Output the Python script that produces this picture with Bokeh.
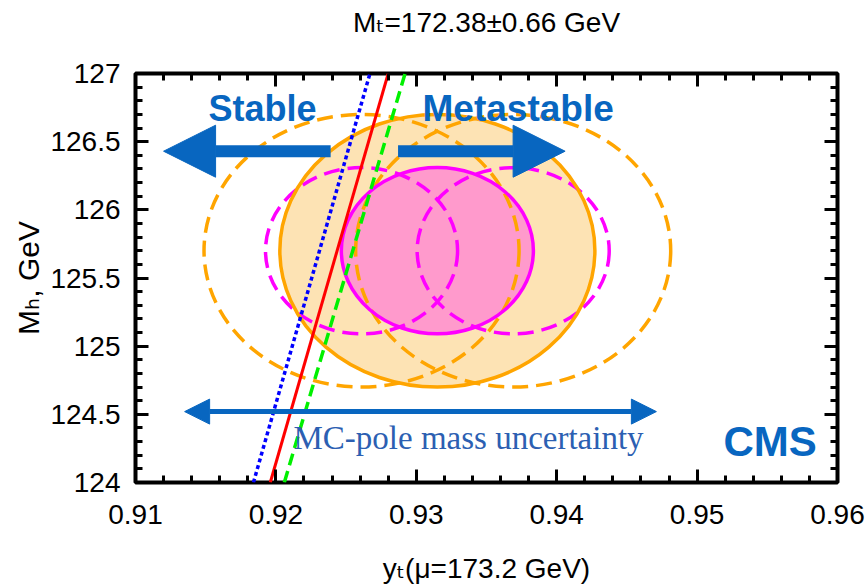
from bokeh.plotting import figure
from bokeh.models import Label, Arrow, NormalHead, LinearAxis, FixedTicker, Range1d
from bokeh.embed import file_html
from bokeh.resources import INLINE

# ---------------- data ----------------
x_ticks = [0.91, 0.92, 0.93, 0.94, 0.95, 0.96]
x_tick_labels = ["0.91", "0.92", "0.93", "0.94", "0.95", "0.96"]
y_ticks = [124, 124.5, 125, 125.5, 126, 126.5, 127]
y_tick_labels = ["124", "124.5", "125", "125.5", "126", "126.5", "127"]

# ellipse centres (shifted variants: left, central, right)
ell_yt = [0.9261, 0.9315, 0.9369]
ell_mh = [125.70, 125.70, 125.70]
sig1_w, sig1_h = 0.01368, 1.22   # full width / height of 68% contour
sig2_w, sig2_h = 0.02244, 2.00   # full width / height of 95% contour

# stability boundary lines (y_t at M_h = 124 and 127)
line_mh = [124.0, 127.0]
red_yt = [0.9196, 0.9280]
blue_yt = [0.9184, 0.9267]
green_yt = [0.9206, 0.9292]

# arrows
big_arrow_mh = 126.43
stable_arrow = [0.9239, 0.9120]       # start, tip
meta_arrow = [0.9287, 0.9406]
mc_arrow_mh = 124.52
mc_arrow = [0.9135, 0.9471]

TITLE = "M\u209c=172.38\u00b10.66 GeV"
XLABEL = "y\u209c(\u03bc=173.2 GeV)"
YLABEL = "M\u2095, GeV"

BLUE = "#0866C0"
ORANGE = "#FFA500"
MAGENTA = "#FF00FF"
FONT = "Liberation Sans, DejaVu Sans"

p = figure(width=868, height=586, x_range=Range1d(0.91, 0.96), y_range=Range1d(124, 127),
           output_backend="svg", toolbar_location=None,
           min_border_left=135, min_border_right=31, min_border_top=73, min_border_bottom=103)
p.grid.visible = False
p.outline_line_color = "black"
p.outline_line_width = 4

top_axis = LinearAxis()
right_axis = LinearAxis()
p.add_layout(right_axis, "right")
p.add_layout(top_axis, "above")
bottom_axis = p.below[0]
left_axis = p.left[0]

minor_x = [round(0.91 + 0.002 * i, 4) for i in range(26)]
minor_y = [round(124 + 0.1 * i, 2) for i in range(31)]
for ax in (bottom_axis, top_axis):
    ax.ticker = FixedTicker(ticks=x_ticks, minor_ticks=minor_x)
    ax.major_label_overrides = dict(zip(x_ticks, x_tick_labels))
for ax in (left_axis, right_axis):
    ax.ticker = FixedTicker(ticks=y_ticks, minor_ticks=minor_y)
    ax.major_label_overrides = dict(zip(y_ticks, y_tick_labels))
for ax in (bottom_axis, top_axis, left_axis, right_axis):
    ax.axis_line_color = None
    ax.major_tick_in = 13
    ax.major_tick_out = 0
    ax.minor_tick_in = 7
    ax.minor_tick_out = 0
    ax.major_tick_line_width = 3
    ax.minor_tick_line_width = 3
    ax.major_tick_line_color = "black"
    ax.minor_tick_line_color = "black"
    ax.major_label_text_font = FONT
    ax.major_label_text_font_size = "28px"
    ax.major_label_text_color = "black"
    ax.axis_label_text_font = FONT
    ax.axis_label_text_font_size = "28px"
    ax.axis_label_text_font_style = "normal"
    ax.axis_label_text_color = "black"
bottom_axis.major_label_standoff = 22
bottom_axis.axis_label = XLABEL
bottom_axis.axis_label_standoff = 26
left_axis.major_label_standoff = 15
left_axis.axis_label = YLABEL
left_axis.axis_label_standoff = 2
left_axis.axis_label_text_font_size = "30px"
for ax in (right_axis, top_axis):
    ax.major_label_text_font_size = "1px"
    ax.major_label_text_color = None
    ax.major_label_standoff = 0

# title drawn as the label of the upper axis
top_axis.axis_label = TITLE
top_axis.axis_label_standoff = 36

# filled contours
p.ellipse(x=[ell_yt[1]], y=[ell_mh[1]], width=sig2_w, height=sig2_h,
          fill_color="#FDE3B4", line_color=None)
p.ellipse(x=[ell_yt[1]], y=[ell_mh[1]], width=sig1_w, height=sig1_h,
          fill_color="#FF9ACC", line_color=None)

# shifted (dashed) contours
for i in (0, 2):
    p.ellipse(x=[ell_yt[i]], y=[ell_mh[i]], width=sig2_w, height=sig2_h,
              fill_color=None, line_color=ORANGE, line_width=3.5, line_dash="16 8")
    p.ellipse(x=[ell_yt[i]], y=[ell_mh[i]], width=sig1_w, height=sig1_h,
              fill_color=None, line_color=MAGENTA, line_width=3.5, line_dash="16 8")

# solid outlines
p.ellipse(x=[ell_yt[1]], y=[ell_mh[1]], width=sig2_w, height=sig2_h,
          fill_color=None, line_color=ORANGE, line_width=3.5)
p.ellipse(x=[ell_yt[1]], y=[ell_mh[1]], width=sig1_w, height=sig1_h,
          fill_color=None, line_color=MAGENTA, line_width=3.5)

# boundary lines
p.line(blue_yt, line_mh, line_color="#0000FF", line_width=3.5, line_dash="4 3")
p.line(red_yt, line_mh, line_color="#FF0000", line_width=3)
p.line(green_yt, line_mh, line_color="#00F000", line_width=3.5, line_dash="12 6")

# arrows
p.add_layout(Arrow(x_start=stable_arrow[0], y_start=big_arrow_mh, x_end=stable_arrow[1], y_end=big_arrow_mh,
                   line_color=BLUE, line_width=12,
                   end=NormalHead(size=52, fill_color=BLUE, line_color=BLUE, line_width=1)))
p.add_layout(Arrow(x_start=meta_arrow[0], y_start=big_arrow_mh, x_end=meta_arrow[1], y_end=big_arrow_mh,
                   line_color=BLUE, line_width=12,
                   end=NormalHead(size=52, fill_color=BLUE, line_color=BLUE, line_width=1)))
p.add_layout(Arrow(x_start=mc_arrow[0], y_start=mc_arrow_mh, x_end=mc_arrow[1], y_end=mc_arrow_mh,
                   line_color=BLUE, line_width=5,
                   start=NormalHead(size=25, fill_color=BLUE, line_color=BLUE, line_width=1),
                   end=NormalHead(size=25, fill_color=BLUE, line_color=BLUE, line_width=1)))

# helper: label whose baseline starts at canvas pixel (px, py)
FX, FY = 135, 73
def lab(text, px, py, size, font="Liberation Sans", style="normal", color="black"):
    py_adj = py - 0.37 * size
    p.add_layout(Label(x=0.91, y=127, x_offset=px - FX, y_offset=FY - py_adj, text=text,
                       text_font=font, text_font_size=f"{size}px", text_font_style=style,
                       text_color=color, text_baseline="alphabetic", text_align="left"))

lab("Stable", 208, 121, 36, style="bold", color=BLUE)
lab("Metastable", 422, 122, 37, style="bold", color=BLUE)
lab("CMS", 723, 457, 42, style="bold", color=BLUE)
lab("MC-pole mass uncertainty", 293, 450, 33, font="Liberation Serif", color="#2C5FB2")

open("out.html", "w").write(file_html(p, INLINE))
